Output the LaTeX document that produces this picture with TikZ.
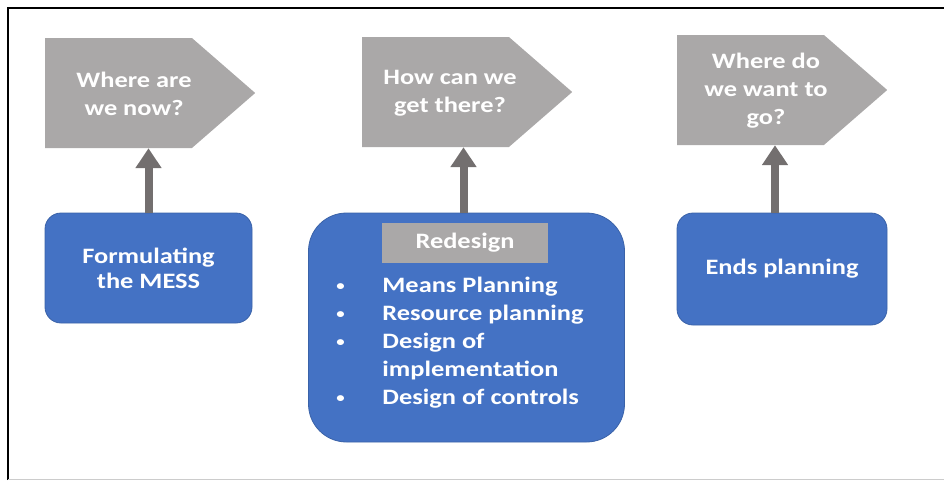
\documentclass[tikz,border=0pt]{standalone}
\usepackage{fontspec}
\setmainfont{Carlito}[FakeStretch=1.2]
\usepackage{xcolor}
\usepackage{tikz}
\usetikzlibrary{arrows.meta,shapes.symbols}
\definecolor{planblue}{HTML}{4472C4}
\definecolor{planedge}{HTML}{3A62A8}
\definecolor{askgray}{HTML}{AAA8A8}
\definecolor{upgray}{HTML}{736F6F}
\newcommand{\dotitem}{\makebox[46pt][l]{\raisebox{2pt}{\fontsize{14}{14}\selectfont\textbullet}}}
\begin{document}
\begin{tikzpicture}[x=1pt,y=-1pt,inner sep=0pt,
  ask/.style={signal,signal to=east,signal pointer angle=82,fill=askgray,minimum width=210pt,minimum height=110pt,anchor=west},
  asktext/.style={text=white,align=center,font=\fontsize{22}{28}\selectfont\bfseries},
  plan/.style={rounded corners=16pt,fill=planblue,draw=planedge,line width=0.8pt,text=white,align=center,font=\fontsize{22}{25}\selectfont\bfseries},
  up/.style={draw=upgray,line width=8pt,-{Triangle[width=25pt,length=20pt]}}]
\useasboundingbox (0,0) rectangle (944,480);
\draw[line width=1.5pt] (8,480) -- (8,8) -- (944,8);
\draw[black!20,line width=1pt] (8,479) -- (944,479);

\node[ask] (P1) at (45,93) {};
\node[asktext] (Q1) at (134,94) {Where are\\we now?};
\node[ask] (P2) at (362,92) {};
\node[asktext] (Q2) at (450,93) {How can we\\get there?};
\node[ask] (P3) at (677,90) {};
\node[asktext] (Q3) at (766,91) {Where do\\we want to\\go?};

\node[plan,minimum width=207pt,minimum height=110pt] (B1) at (148.5,268) {Formulating\\the MESS};
\node[plan,rounded corners=38pt,minimum width=316pt,minimum height=229pt] (B2) at (466.5,327.5) {};
\node[plan,minimum width=210pt,minimum height=112pt] (B3) at (782,269) {Ends planning};

\node[fill=askgray,minimum width=166pt,minimum height=40pt,text=white,font=\fontsize{22}{25}\selectfont\bfseries] (R) at (465,243) {Redesign};
\node[text=white,align=left,font=\fontsize{22}{28}\selectfont\bfseries] (L) at (460,343) {%
\dotitem Means Planning\\
\dotitem Resource planning\\
\dotitem Design of\\
\makebox[46pt][l]{}implementation\\
\dotitem Design of controls};

\draw[up] (B1.north) -- (B1.north |- P1.south);
\draw[up] ([xshift=-3pt]B2.north) -- ([xshift=-3pt]B2.north |- P2.south);
\draw[up] ([xshift=-7pt]B3.north) -- ([xshift=-7pt]B3.north |- P3.south);
\end{tikzpicture}
\end{document}
